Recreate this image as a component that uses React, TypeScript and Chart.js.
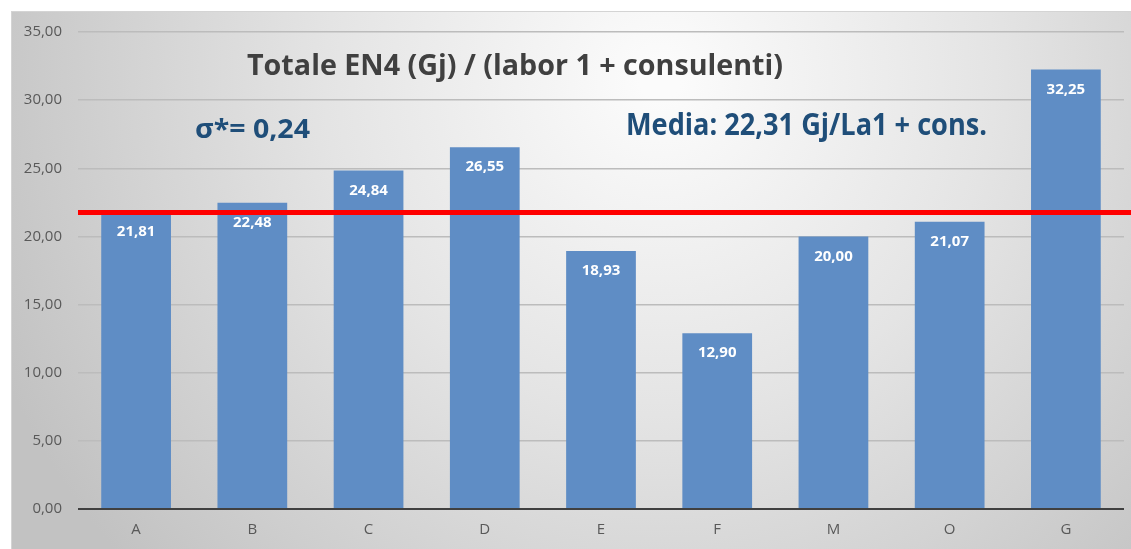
import React, { useEffect, useRef } from "react";
import { Chart, registerables } from "chart.js";

Chart.register(...registerables);

const categories = ["A", "B", "C", "D", "E", "F", "M", "O", "G"];
const values = [21.81, 22.48, 24.84, 26.55, 18.93, 12.9, 20.0, 21.07, 32.25];
const mediaLineValue = 21.75;
const titleText = "Totale EN4 (Gj) / (labor 1 + consulenti)";
const sigmaText = "σ*= 0,24";
const mediaText = "Media: 22,31 Gj/La1 + cons.";

const W = 1131;
const H = 549;

const fmt = (v: number) => v.toFixed(2).replace(".", ",");

function fitText(
  ctx: CanvasRenderingContext2D,
  text: string,
  x: number,
  baseline: number,
  width: number,
  font: string,
  color: string
) {
  ctx.save();
  ctx.font = font;
  const w = ctx.measureText(text).width;
  ctx.translate(x, baseline);
  ctx.scale(width / w, 1);
  ctx.fillStyle = color;
  ctx.textAlign = "left";
  ctx.textBaseline = "alphabetic";
  ctx.fillText(text, 0, 0);
  ctx.restore();
}

const bgPlugin = {
  id: "bgPlugin",
  beforeDraw(chart: any) {
    const ctx = chart.ctx as CanvasRenderingContext2D;
    ctx.save();
    ctx.fillStyle = "#ffffff";
    ctx.fillRect(0, 0, W, H);
    const g = ctx.createRadialGradient(660, 80, 20, 660, 80, 720);
    g.addColorStop(0, "#fbfbfb");
    g.addColorStop(0.45, "#e4e4e4");
    g.addColorStop(1, "#c2c2c2");
    ctx.fillStyle = g;
    ctx.fillRect(11, 11, W - 11, H - 11);
    ctx.strokeStyle = "#d4d4d4";
    ctx.lineWidth = 1;
    ctx.strokeRect(11.5, 11.5, W - 11, H - 11);
    ctx.restore();
  },
};

const overlayPlugin = {
  id: "overlayPlugin",
  afterDatasetsDraw(chart: any) {
    const ctx = chart.ctx as CanvasRenderingContext2D;
    const meta = chart.getDatasetMeta(0);
    ctx.save();
    ctx.fillStyle = "#ffffff";
    ctx.font = "bold 15px 'Open Sans'";
    ctx.textAlign = "center";
    ctx.textBaseline = "middle";
    meta.data.forEach((bar: any, i: number) => {
      ctx.fillText(fmt(values[i]), bar.x, bar.y + 20);
    });
    const y = chart.scales.y.getPixelForValue(mediaLineValue);
    ctx.strokeStyle = "#ff0000";
    ctx.lineWidth = 5;
    ctx.beginPath();
    ctx.moveTo(chart.chartArea.left, y);
    ctx.lineTo(W, y);
    ctx.stroke();
    ctx.restore();

    fitText(ctx, titleText, 247, 75, 536, "bold 29px 'Open Sans'", "#404040");
    fitText(ctx, sigmaText, 195, 138, 115, "bold 27px 'Open Sans'", "#1F4E79");
    fitText(ctx, mediaText, 626, 135, 361, "bold 31px 'Open Sans'", "#1F4E79");
  },
};

export default function App() {
  const ref = useRef<HTMLCanvasElement | null>(null);
  useEffect(() => {
    if (!ref.current) return;
    const chart = new Chart(ref.current, {
      type: "bar",
      data: {
        labels: categories,
        datasets: [
          {
            data: values,
            backgroundColor: "#5F8DC5",
            barPercentage: 0.6,
            categoryPercentage: 1,
          },
        ],
      },
      options: {
        animation: false,
        responsive: false,
        layout: { padding: { top: 32, right: 7, left: 0, bottom: 0 } },
        plugins: { legend: { display: false }, tooltip: { enabled: false }, title: { display: false } },
        scales: {
          y: {
            min: 0,
            max: 35,
            ticks: {
              stepSize: 5,
              padding: 16,
              color: "#595959",
              font: { family: "'Open Sans'", size: 15 },
              callback: (v: any) => fmt(Number(v)),
            },
            grid: {
              drawTicks: false,
              color: (c: any) => (c.tick && c.tick.value === 0 ? "#404040" : "#bcbcbc"),
              lineWidth: (c: any) => (c.tick && c.tick.value === 0 ? 2 : 1.5),
            },
            border: { display: false },
            afterFit: (s: any) => {
              s.width = 78;
            },
          },
          x: {
            ticks: {
              padding: 12,
              color: "#595959",
              font: { family: "'Open Sans'", size: 15 },
            },
            grid: { display: false, drawTicks: false },
            border: { display: false },
            afterFit: (s: any) => {
              s.height = 40;
            },
          },
        },
      },
      plugins: [bgPlugin, overlayPlugin],
    });
    return () => chart.destroy();
  }, []);
  return (
    <div style={{ position: "fixed", left: 0, top: 0, width: W, height: H }}>
      <canvas ref={ref} width={W} height={H} style={{ width: W, height: H, display: "block" }} />
    </div>
  );
}
